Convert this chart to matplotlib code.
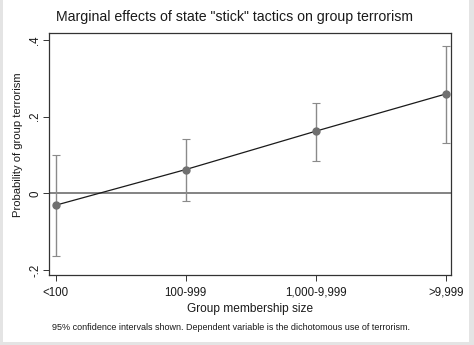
import matplotlib
matplotlib.use("Agg")
import matplotlib.pyplot as plt

plt.rcParams["font.family"] = ["Liberation Sans", "DejaVu Sans"]

GRAY = "#7a7a7a"
INK = "#1a1a1a"

categories = ["<100", "100-999", "1,000-9,999", ">9,999"]
effect = [-0.031, 0.062, 0.162, 0.259]
ci_low = [-0.164, -0.019, 0.084, 0.132]
ci_high = [0.100, 0.142, 0.236, 0.383]
yticks = [-0.2, 0, 0.2, 0.4]
ytick_labels = ["-.2", "0", ".2", ".4"]

W, H = 474, 345
fig = plt.figure(figsize=(W / 100, H / 100), dpi=100)
fig.patch.set_facecolor("#e4e4e4")
# white page area behind the plot
bg = fig.add_axes([3 / W, 3 / H, (469 - 3) / W, 1 - 3 / H], zorder=-1)
bg.set_facecolor("white")
bg.set_xticks([])
bg.set_yticks([])
for s in bg.spines.values():
    s.set_visible(False)

ax = fig.add_axes([49 / W, 1 - 275 / H, (451 - 49) / W, (275 - 33) / H])
ax.set_facecolor("white")
x = list(range(1, len(categories) + 1))
lo_err = [e - l for e, l in zip(effect, ci_low)]
hi_err = [h - e for e, h in zip(effect, ci_high)]

ax.axhline(0, color=GRAY, linewidth=1.3, zorder=1)
ax.errorbar(x, effect, yerr=[lo_err, hi_err], fmt="none", ecolor="#8a8a8a",
            elinewidth=1.0, capsize=3, capthick=0.8, zorder=2)
ax.plot(x, effect, color=INK, linewidth=0.9, zorder=3)
ax.plot(x, effect, "o", color="#707070", markersize=5, zorder=4)

ax.set_xlim(0.948, 4.04)
ax.set_ylim(-0.213, 0.418)
ax.set_xticks(x)
ax.set_xticklabels(categories, fontsize=8.3, color=INK)
ax.set_yticks(yticks)
ax.set_yticklabels(ytick_labels, fontsize=8.3, color=INK, rotation=90, va="center")
ax.tick_params(axis="x", length=4, width=0.7, color="#333333", pad=4.5)
ax.tick_params(axis="y", length=4, width=0.7, color="#333333", pad=1.5)
for s in ax.spines.values():
    s.set_color("#333333")
    s.set_linewidth(0.9)

ax.set_xlabel("Group membership size", fontsize=8.6, color=INK)
ax.set_ylabel("Probability of group terrorism", fontsize=8.1, color=INK)
ax.xaxis.set_label_coords(0.5, -(309 - 275) / 242, transform=ax.transAxes)
ax.xaxis.label.set_va("center")
ax.yaxis.set_label_coords(-(49 - 18) / 402, (275 - 145) / 242, transform=ax.transAxes)
ax.yaxis.label.set_va("center")

fig.text(234 / W, 1 - 17 / H, 'Marginal effects of state "stick" tactics on group terrorism',
         ha="center", va="center", fontsize=10.2, color=INK)
fig.text(52 / W, 1 - 327 / H,
         "95% confidence intervals shown. Dependent variable is the dichotomous use of terrorism.",
         ha="left", va="center", fontsize=6.5, color=INK)

fig.savefig("out.png", dpi=100, facecolor=fig.get_facecolor())
